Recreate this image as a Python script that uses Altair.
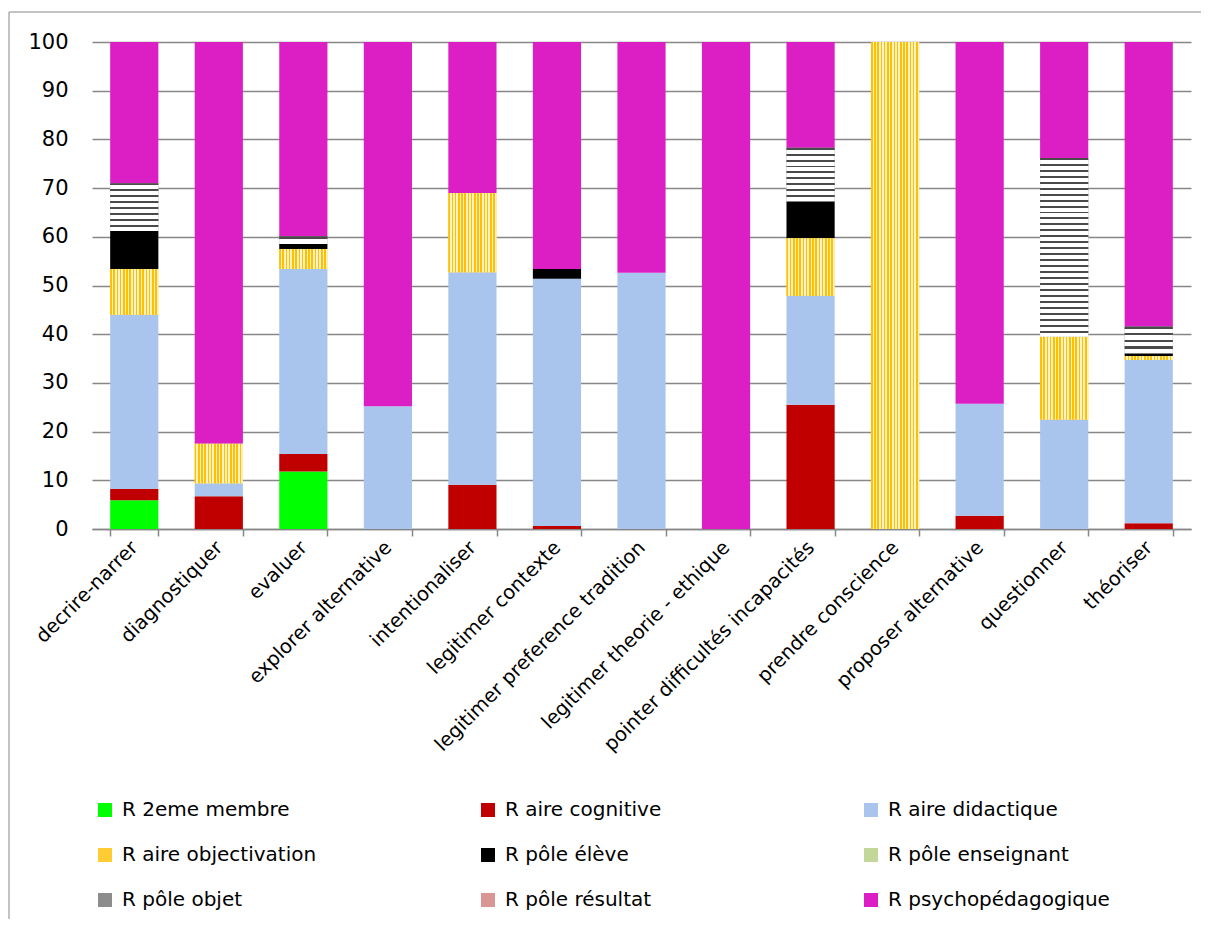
import altair as alt
import pandas as pd

categories = ["decrire-narrer", "diagnostiquer", "evaluer", "explorer alternative",
              "intentionaliser", "legitimer contexte", "legitimer preference tradition",
              "legitimer theorie - ethique", "pointer difficultés incapacités",
              "prendre conscience", "proposer alternative", "questionner", "théoriser"]

series = ["R 2eme membre", "R aire cognitive", "R aire didactique", "R aire objectivation",
          "R pôle élève", "R pôle enseignant", "R pôle objet", "R pôle résultat",
          "R psychopédagogique"]

v_2eme_membre = [5.9, 0, 11.8, 0, 0, 0, 0, 0, 0, 0, 0, 0, 0]
v_aire_cognitive = [2.3, 6.7, 3.6, 0, 9.1, 0.6, 0, 0, 25.5, 0, 2.7, 0, 1.2]
v_aire_didactique = [35.8, 2.7, 38.0, 25.2, 43.6, 50.8, 52.6, 0, 22.4, 0, 23.0, 22.5, 33.5]
v_aire_objectivation = [9.4, 8.1, 4.1, 0, 16.3, 0, 0, 0, 11.8, 100, 0, 17.0, 0.8]
v_pole_eleve = [7.8, 0, 1.0, 0, 0, 2.0, 0, 0, 7.6, 0, 0, 0, 0.6]
v_pole_enseignant = [0, 0, 0, 0, 0, 0, 0, 0, 0, 0, 0, 0, 0]
v_pole_objet = [9.8, 0, 1.6, 0, 0, 0, 0, 0, 11.0, 0, 0, 36.7, 5.5]
v_pole_resultat = [0, 0, 0, 0, 0, 0, 0, 0, 0, 0, 0, 0, 0]
v_psychopedagogique = [29.0, 82.5, 39.9, 74.8, 31.0, 46.6, 47.4, 100, 21.7, 0, 74.3, 23.8, 58.4]

all_values = [v_2eme_membre, v_aire_cognitive, v_aire_didactique, v_aire_objectivation,
              v_pole_eleve, v_pole_enseignant, v_pole_objet, v_pole_resultat,
              v_psychopedagogique]

colors = ["#00FF00", "#C00000", "#A9C5EE", "#FFCC33", "#000000", "#C4D79B",
          "#8C8C8C", "#D99694", "#DB1FC4"]

rows = []
for si, (s, vals) in enumerate(zip(series, all_values)):
    for c, v in zip(categories, vals):
        rows.append({"cat": c, "series": s, "value": v, "order": si})
df = pd.DataFrame(rows)

FONT = "DejaVu Sans"
GRAY = "#878787"
PX_PER_UNIT = 487 / 100

base = alt.Chart(df).transform_stack(
    stack="value", groupby=["cat"], as_=["y0", "y1"],
    sort=[alt.SortField("order", order="ascending")]
)

x_enc = alt.X("cat:N", sort=categories, title=None,
              scale=alt.Scale(paddingInner=0.43, paddingOuter=0.215),
              axis=alt.Axis(labelAngle=-45, labelAlign="right", labelBaseline="middle",
                            labelFontSize=19.5, labelFont=FONT, labelColor="#000000",
                            labelLimit=400, labelPadding=8, tickBand="extent",
                            tickSize=7, tickColor=GRAY, tickWidth=1.5,
                            domainColor=GRAY, domainWidth=1.5, grid=False))
y_enc = alt.Y("y0:Q", title=None,
              scale=alt.Scale(domain=[0, 100], nice=False),
              axis=alt.Axis(values=list(range(0, 101, 10)), grid=True, gridColor=GRAY,
                            gridWidth=1.3, domain=False, ticks=False,
                            labelFontSize=21, labelFont=FONT, labelColor="#000000",
                            labelPadding=24))

bars = base.mark_bar().encode(
    x=x_enc,
    y=y_enc,
    y2="y1:Q",
    color=alt.Color("series:N", scale=alt.Scale(domain=series, range=colors),
                    legend=alt.Legend(title=None, orient="none", legendX=3, legendY=758,
                                      direction="horizontal",
                                      columns=3, columnPadding=134, rowPadding=25,
                                      gridAlign="all",
                                      labelFontSize=20, labelFont=FONT, labelColor="#000000",
                                      labelLimit=400, labelOffset=7,
                                      symbolType="square",
                                      symbolSize=196, symbolStrokeWidth=0)),
    order="order:Q",
)

# vertical yellow/white stripes for "R aire objectivation"
n_stripes = 15
stripe_stops = []
for i in range(n_stripes):
    a = i / n_stripes
    m = (i + 0.5) / n_stripes
    b = (i + 1) / n_stripes
    stripe_stops += [alt.GradientStop(offset=a, color="#FFC000"),
                     alt.GradientStop(offset=m, color="#FFC000"),
                     alt.GradientStop(offset=m, color="#FFF2C4"),
                     alt.GradientStop(offset=b, color="#FFF2C4")]
yellow_grad = alt.LinearGradient(gradient="linear", stops=stripe_stops, x1=0, x2=1, y1=0, y2=0)

yellow = base.transform_filter(alt.datum.series == "R aire objectivation").mark_bar(
    fill=yellow_grad).encode(x=alt.X("cat:N", sort=categories), y="y0:Q", y2="y1:Q")

layers = [bars, yellow]

# wavy black/white lines for "R pôle objet" (approximated with horizontal stripes)
for c, v in zip(categories, v_pole_objet):
    if v <= 0:
        continue
    n = max(1, round(v * PX_PER_UNIT / 6))
    stops = []
    for i in range(n):
        a = i / n
        m = (i + 0.33) / n
        b = (i + 1) / n
        stops += [alt.GradientStop(offset=a, color="#4A4A4A"),
                  alt.GradientStop(offset=m, color="#4A4A4A"),
                  alt.GradientStop(offset=m, color="#FFFFFF"),
                  alt.GradientStop(offset=b, color="#FFFFFF")]
    g = alt.LinearGradient(gradient="linear", stops=stops, x1=0, x2=0, y1=0, y2=1)
    layers.append(
        base.transform_filter((alt.datum.series == "R pôle objet") & (alt.datum.cat == c))
        .mark_bar(fill=g).encode(x=alt.X("cat:N", sort=categories), y="y0:Q", y2="y1:Q")
    )

# chart frame (left and top edges)
frame_df = pd.DataFrame({"k": [0]})
frame_left = alt.Chart(frame_df).mark_rule(color=GRAY, strokeWidth=1).encode(
    x=alt.value(-83), y=alt.value(-30), y2=alt.value(900))
frame_top = alt.Chart(frame_df).mark_rule(color=GRAY, strokeWidth=1).encode(
    x=alt.value(-83), x2=alt.value(1200), y=alt.value(-30))
layers += [frame_left, frame_top]

chart = alt.layer(*layers).properties(
    width=1099, height=487,
    padding={"left": 84, "top": 34, "right": 10, "bottom": 390},
    autosize=alt.AutoSizeParams(type="none"),
).configure_view(stroke=None)

chart.save("out.html", embed_options={"renderer": "svg", "actions": False})
